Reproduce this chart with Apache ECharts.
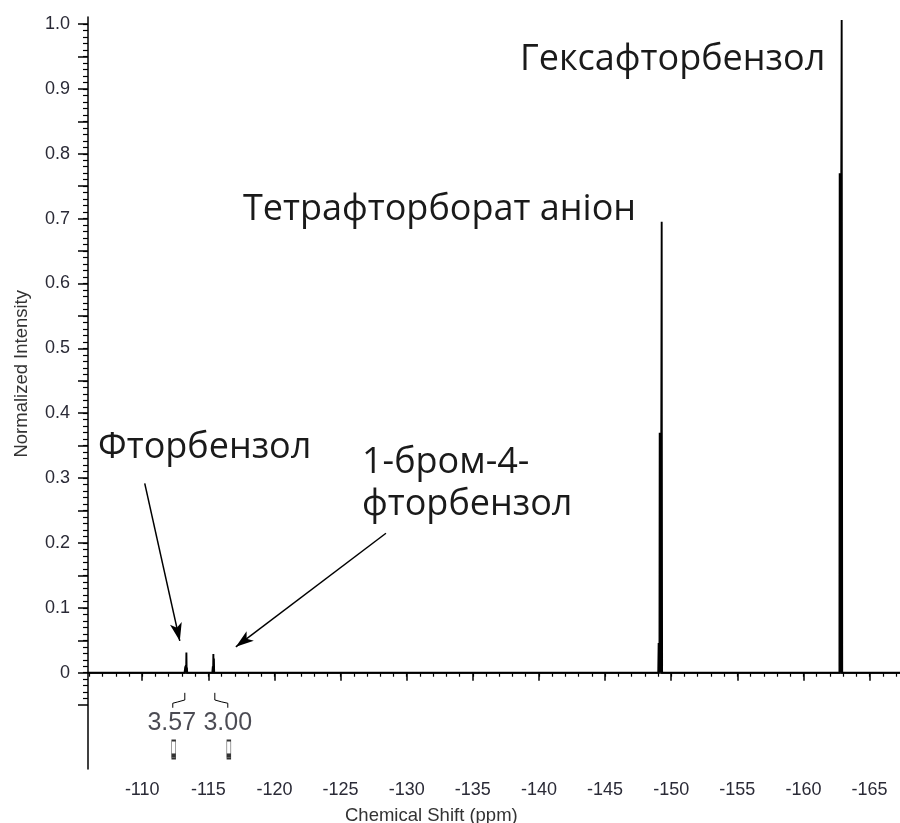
<!DOCTYPE html>
<html>
<head>
<meta charset="utf-8">
<script src="https://cdn.jsdelivr.net/npm/echarts@6/dist/echarts.min.js"></script>
<style>
html,body{margin:0;padding:0;background:#fff;}
#chart{width:900px;height:823px;}
</style>
</head>
<body>
<div id="chart"></div>
<script>
// ---- data ----
// spectrum: chemical shift (ppm) and normalized intensity
var shiftPpm = [-105.9, -112.0, -112.02, -112.04, -112.6,
  -113.20, -113.26, -113.28, -113.30, -113.32, -113.34, -113.36, -113.38, -113.40, -113.6, -114.2,
  -115.30, -115.34, -115.36, -115.38, -115.40, -115.42, -115.44, -115.6, -116.3,
  -126.0, -126.02, -126.04, -132.0,
  -140.0, -140.02, -140.04, -146.0,
  -149.02, -149.05, -149.07, -149.09, -149.11, -149.13, -149.15, -149.17, -149.19, -149.21, -149.23, -149.25, -149.27, -149.28, -149.29, -149.31, -150.0,
  -162.72, -162.74, -162.76, -162.78, -162.80, -162.82, -162.84, -162.86, -162.88, -162.89, -162.90, -162.93, -163.6,
  -167.3];
var intensity = [0, 0, 0.003, 0, 0,
  0, 0.010, 0, 0.012, 0, 0.031, 0, 0.008, 0, 0, 0,
  0, 0.010, 0, 0.029, 0, 0.022, 0, 0, 0,
  0, 0.003, 0, 0,
  0, 0.003, 0, 0,
  0, 0.046, 0, 0.046, 0, 0.370, 0, 0.370, 0, 0.370, 0, 0.370, 0.370, 0.695, 0.370, 0, 0,
  0, 0.770, 0, 0.770, 0, 0.770, 0, 0.770, 0.770, 1.006, 0.770, 0, 0,
  0];

// integrals
var integralLabels = ['3.57', '3.00'];
var integralLabelPpm = [-112.23, -116.47];
var integralMarkPpm = [-112.38, -116.55];
var integralCurve1Ppm = [-113.22, -113.22, -112.69, -112.31, -112.31];
var integralCurve1Val = [-0.031, -0.042, -0.045, -0.047, -0.054];
var integralCurve2Ppm = [-115.49, -115.49, -116.02, -116.47, -116.47];
var integralCurve2Val = [-0.031, -0.042, -0.045, -0.047, -0.054];

// annotation arrows: [fromPpm, fromVal, toPpm, toVal]
var arrowFluoro = [-110.19, 0.292, -112.84, 0.049];
var arrowBromo = [-128.43, 0.215, -117.08, 0.040];

// axis ticks / labels
var xMajorTicks = [-165, -160, -155, -150, -145, -140, -135, -130, -125, -120, -115, -110];
var yLabelTicks = [0, 0.1, 0.2, 0.3, 0.4, 0.5, 0.6, 0.7, 0.8, 0.9, 1.0];

// annotation texts
var labelC6F6 = 'Гексафторбензол';
var labelBF4 = 'Тетрафторборат аніон';
var labelPhF = 'Фторбензол';
var labelBrPhF1 = '1-бром-4-';
var labelBrPhF2 = 'фторбензол';
var xName = 'Chemical Shift (ppm)';
var yName = 'Normalized Intensity';

// ---- derived tick lists ----
function range(a, b, step) { var r = []; for (var i = 0; a + i * step <= b + 1e-9; i++) r.push(+(a + i * step).toFixed(4)); return r; }
var xMinorTicks = range(-167, -106, 1);
var yMajorTicks = range(-0.05, 1.0, 0.05);
var yMinorTicks = range(-0.04, 1.0, 0.01);

var XMIN = -167.3, XMAX = -105.9, YMIN = -0.1484, YMAX = 1.0108;

var spectrum = shiftPpm.map(function (p, i) { return [p, intensity[i]]; });
function pairs(xs, ys) { return xs.map(function (x, i) { return [x, ys[i]]; }); }

var tickFont = {fontFamily: 'Liberation Sans, Arial, sans-serif', fontSize: 18, color: '#2a2a36'};
var annFont = '36px "Open Sans", "Noto Sans", sans-serif';

var chart = echarts.init(document.getElementById('chart'), null, {renderer: 'canvas'});
var option = {
  animation: false,
  backgroundColor: '#fff',
  grid: {left: 88, right: 0, top: 17, bottom: 54, containLabel: false},
  xAxis: [
    {type: 'value', inverse: true, min: XMIN, max: XMAX, position: 'bottom',
     axisLine: {show: true, lineStyle: {color: '#000', width: 1.5}},
     axisTick: {show: true, inside: false, length: 8, lineStyle: {color: '#000', width: 1.5}, customValues: xMajorTicks},
     axisLabel: Object.assign({show: true, margin: 12, customValues: xMajorTicks, formatter: function (v) { return String(v); }}, tickFont),
     splitLine: {show: false}},
    {type: 'value', inverse: true, min: XMIN, max: XMAX, position: 'bottom',
     axisLine: {show: false},
     axisTick: {show: true, inside: false, length: 4, lineStyle: {color: '#000', width: 1.2}, customValues: xMinorTicks},
     axisLabel: {show: false},
     splitLine: {show: false}}
  ],
  yAxis: [
    {type: 'value', min: YMIN, max: YMAX, position: 'left',
     axisLine: {show: true, lineStyle: {color: '#000', width: 1.5}},
     axisTick: {show: true, inside: false, length: 10, lineStyle: {color: '#000', width: 1.5}, customValues: yMajorTicks},
     axisLabel: Object.assign({show: true, margin: 18, customValues: yLabelTicks,
       formatter: function (v) { return Math.abs(v) < 1e-9 ? '0' : v.toFixed(1); }}, tickFont),
     splitLine: {show: false}},
    {type: 'value', min: YMIN, max: YMAX, position: 'left',
     axisLine: {show: false},
     axisTick: {show: true, inside: false, length: 5, lineStyle: {color: '#000', width: 1.2}, customValues: yMinorTicks},
     axisLabel: {show: false},
     splitLine: {show: false}}
  ],
  series: [
    {type: 'line', name: 'spectrum', data: spectrum, symbol: 'none', clip: true,
     lineStyle: {color: '#000', width: 1.9, join: 'miter'},
     markLine: {silent: true, symbol: ['none', 'arrow'], symbolSize: [9, 18], label: {show: false},
       lineStyle: {color: '#000', width: 1.5, type: 'solid'},
       data: [
         [{coord: [arrowFluoro[0], arrowFluoro[1]]}, {coord: [arrowFluoro[2], arrowFluoro[3]]}],
         [{coord: [arrowBromo[0], arrowBromo[1]]}, {coord: [arrowBromo[2], arrowBromo[3]]}]
       ]}},
    {type: 'line', data: pairs(integralCurve1Ppm, integralCurve1Val), symbol: 'none', lineStyle: {color: '#000', width: 1}},
    {type: 'line', data: pairs(integralCurve2Ppm, integralCurve2Val), symbol: 'none', lineStyle: {color: '#000', width: 1}},
    {type: 'scatter', symbolSize: 0, data: integralLabelPpm.map(function (p, i) { return {value: [p, -0.0775], name: integralLabels[i]}; }),
     label: {show: true, position: 'inside', formatter: function (d) { return d.name; },
       fontFamily: 'Liberation Sans, Arial, sans-serif', fontSize: 25, color: '#1e1e28'}},
    {type: 'scatter', symbol: 'rect', symbolSize: [4, 18], data: integralMarkPpm.map(function (p) { return [p, -0.1184]; }),
     itemStyle: {color: '#fff', borderColor: '#000', borderWidth: 1}},
    {type: 'scatter', symbol: 'rect', symbolSize: [4, 4], data: integralMarkPpm.map(function (p) { return [p, -0.1275]; }),
     itemStyle: {color: '#000'}}
  ],
  graphic: [
    {type: 'text', left: 520, top: 42, style: {text: labelC6F6, font: annFont, fill: '#1a1a1a'}},
    {type: 'text', left: 243, top: 192, style: {text: labelBF4, font: annFont, fill: '#1a1a1a'}},
    {type: 'text', left: 98, top: 430, style: {text: labelPhF, font: annFont, fill: '#1a1a1a'}},
    {type: 'text', left: 362, top: 445, style: {text: labelBrPhF1, font: annFont, fill: '#1a1a1a'}},
    {type: 'text', left: 362, top: 487, style: {text: labelBrPhF2, font: annFont, fill: '#1a1a1a'}},
    {type: 'text', left: 345, top: 806, style: {text: xName, font: '18.5px "Liberation Sans", Arial, sans-serif', fill: '#333'}},
    {type: 'text', left: 12, top: 290, rotation: Math.PI / 2, style: {text: yName, font: '18.5px "Liberation Sans", Arial, sans-serif', fill: '#333'}}
  ]
};
chart.setOption(option);
</script>
</body>
</html>
